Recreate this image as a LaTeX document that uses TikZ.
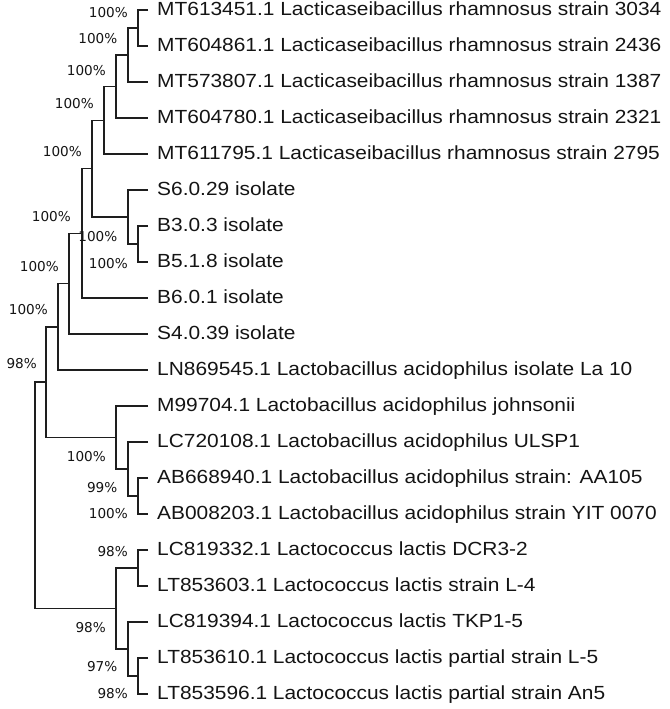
\documentclass[tikz,border=0pt]{standalone}
\usepackage{fontspec}
\newfontfamily\leaffont[FakeStretch=1.1]{Liberation Sans}
\newfontfamily\bsfont{DejaVu Sans}
\definecolor{treeline}{HTML}{1E1E1E}
\definecolor{txt}{HTML}{141414}
\begin{document}
\begin{tikzpicture}[x=1pt,y=-1pt,
  branch/.style={draw=treeline,line width=1.6pt},
  leaf/.style={anchor=west,inner xsep=9pt,inner ysep=0pt,text height=14pt,text depth=3.4pt,
    font=\leaffont\fontsize{19}{22}\selectfont,text=txt},
  boot/.style={anchor=east,inner sep=0pt,text height=9.9pt,text depth=0pt,
    font=\bsfont\fontsize{13.6}{16}\selectfont,text=txt}]
\useasboundingbox (0,0) rectangle (669,709);
% leaves
\node[leaf] (l1) at (148,10) {MT613451.1 Lacticaseibacillus rhamnosus strain 3034};
\node[leaf] (l2) at (148,46) {MT604861.1 Lacticaseibacillus rhamnosus strain 2436};
\node[leaf] (l3) at (148,82) {MT573807.1 Lacticaseibacillus rhamnosus strain 1387};
\node[leaf] (l4) at (148,118) {MT604780.1 Lacticaseibacillus rhamnosus strain 2321};
\node[leaf] (l5) at (148,154) {MT611795.1 Lacticaseibacillus rhamnosus strain 2795};
\node[leaf] (l6) at (148,190) {S6.0.29 isolate};
\node[leaf] (l7) at (148,226) {B3.0.3 isolate};
\node[leaf] (l8) at (148,262) {B5.1.8 isolate};
\node[leaf] (l9) at (148,298) {B6.0.1 isolate};
\node[leaf] (l10) at (148,334) {S4.0.39 isolate};
\node[leaf] (l11) at (148,370) {LN869545.1 Lactobacillus acidophilus isolate La 10};
\node[leaf] (l12) at (148,406) {M99704.1 Lactobacillus acidophilus johnsonii};
\node[leaf] (l13) at (148,442) {LC720108.1 Lactobacillus acidophilus ULSP1};
\node[leaf] (l14) at (148,478) {AB668940.1 Lactobacillus acidophilus strain: AA105};
\node[leaf] (l15) at (148,514) {AB008203.1 Lactobacillus acidophilus strain YIT 0070};
\node[leaf] (l16) at (148,550) {LC819332.1 Lactococcus lactis DCR3-2};
\node[leaf] (l17) at (148,586) {LT853603.1 Lactococcus lactis strain L-4};
\node[leaf] (l18) at (148,622) {LC819394.1 Lactococcus lactis TKP1-5};
\node[leaf] (l19) at (148,658) {LT853610.1 Lactococcus lactis partial strain L-5};
\node[leaf] (l20) at (148,694) {LT853596.1 Lactococcus lactis partial strain An5};
% internal nodes
\coordinate (A) at (138,28);
\coordinate (B) at (128,55);
\coordinate (C) at (116,86.5);
\coordinate (D) at (104,120.3);
\coordinate (G) at (138,244);
\coordinate (F) at (128,217);
\coordinate (E) at (92,168.6);
\coordinate (H) at (82,233.3);
\coordinate (I) at (69,283.6);
\coordinate (J) at (58,326.8);
\coordinate (N) at (138,496);
\coordinate (M) at (128,469);
\coordinate (L) at (116,437.5);
\coordinate (K) at (46,382.2);
\coordinate (Q) at (138,568);
\coordinate (T) at (138,676);
\coordinate (S) at (128,649);
\coordinate (P) at (116,608.5);
\coordinate (R) at (35,495.3);
% branches
\draw[branch] (l1.west) -| (A) |- (l2.west);
\draw[branch] (A) -| (B) |- (l3.west);
\draw[branch] (B) -| (C) |- (l4.west);
\draw[branch] (C) -| (D) |- (l5.west);
\draw[branch] (l7.west) -| (G) |- (l8.west);
\draw[branch] (l6.west) -| (F) |- (G);
\draw[branch] (D) -| (E) |- (F);
\draw[branch] (E) -| (H) |- (l9.west);
\draw[branch] (H) -| (I) |- (l10.west);
\draw[branch] (I) -| (J) |- (l11.west);
\draw[branch] (l14.west) -| (N) |- (l15.west);
\draw[branch] (l13.west) -| (M) |- (N);
\draw[branch] (l12.west) -| (L) |- (M);
\draw[branch] (J) -| (K) |- (L);
\draw[branch] (l16.west) -| (Q) |- (l17.west);
\draw[branch] (l19.west) -| (T) |- (l20.west);
\draw[branch] (l18.west) -| (S) |- (T);
\draw[branch] (Q) -| (P) |- (S);
\draw[branch] (K) -| (R) |- (P);
% bootstrap values
\node[boot] (bA) at (128,13) {100\%};
\node[boot] (bB) at (117.5,39) {100\%};
\node[boot] (bC) at (106,71) {100\%};
\node[boot] (bD) at (94,104) {100\%};
\node[boot] (bE) at (82,152) {100\%};
\node[boot] (bH) at (71,217) {100\%};
\node[boot] (bF) at (117.5,237) {100\%};
\node[boot] (bG) at (128,264) {100\%};
\node[boot] (bI) at (59,267) {100\%};
\node[boot] (bJ) at (48,310) {100\%};
\node[boot] (bK) at (37,364) {98\%};
\node[boot] (bL) at (106,457) {100\%};
\node[boot] (bM) at (117.5,488) {99\%};
\node[boot] (bN) at (128,514) {100\%};
\node[boot] (bQ) at (128,552) {98\%};
\node[boot] (bP) at (106,628) {98\%};
\node[boot] (bS) at (117.5,667) {97\%};
\node[boot] (bT) at (128,694) {98\%};
\end{tikzpicture}
\end{document}
